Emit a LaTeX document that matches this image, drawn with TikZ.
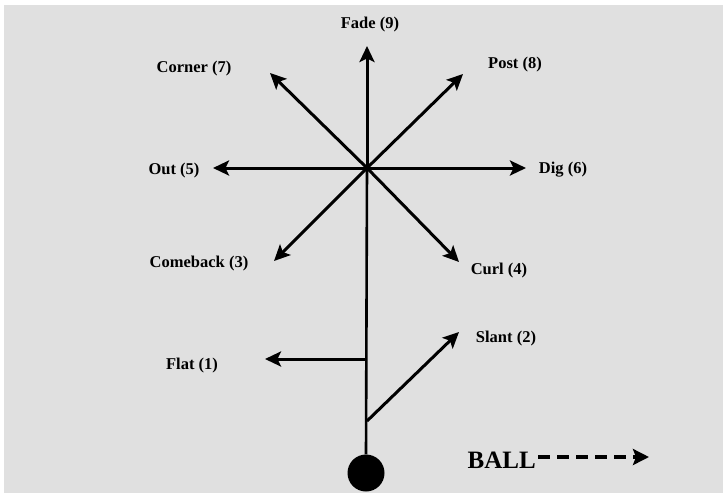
\documentclass[tikz,border=0pt]{standalone}
\usepackage{fontspec}
\setmainfont{Liberation Serif}
\usetikzlibrary{arrows.meta}
\definecolor{bg}{HTML}{E0E0E0}
\begin{document}
\begin{tikzpicture}[x=1pt,y=-1pt,
  lbl/.style={font=\bfseries\fontsize{16.5}{18}\selectfont, inner sep=0pt},
  route/.style={line width=3pt, -{Stealth[length=16pt,width=15pt,inset=3.5pt]}},
  stem/.style={line width=2.6pt}]
\useasboundingbox (0,0) rectangle (727,493);
\fill[white] (0,0) rectangle (727,493);
\fill[bg] (4,5) rectangle (723,493);

% ball and stem
\node[circle, fill=black, minimum size=37pt, inner sep=0pt] (ball) at (366,473) {};
\coordinate (c) at (367,168);
\coordinate (fadeTip) at (367,46);
\coordinate (slantRoot) at (367,421);
\coordinate (flatRoot) at (367,359);

% tips
\coordinate (cornerTip) at (270,73);
\coordinate (postTip) at (463,74);
\coordinate (outTip) at (213,168);
\coordinate (digTip) at (526,168);
\coordinate (comebackTip) at (274,261);
\coordinate (curlTip) at (459,262);
\coordinate (flatTip) at (265,359);
\coordinate (slantTip) at (459,332);

\draw[stem] (ball.north) -- (c);
\draw[route] (c) -- (fadeTip);
\draw[route] (c) -- (cornerTip);
\draw[route] (c) -- (postTip);
\draw[route] (c) -- (outTip);
\draw[route] (c) -- (digTip);
\draw[route] (c) -- (comebackTip);
\draw[route] (c) -- (curlTip);
\draw[route] (flatRoot) -- (flatTip);
\draw[route] (slantRoot) -- (slantTip);

% labels
\node[lbl] (fade) at (370,25) {Fade (9)};
\node[lbl] (corner) at (194,69) {Corner (7)};
\node[lbl] (post) at (515,65) {Post (8)};
\node[lbl] (out) at (174,171) {Out (5)};
\node[lbl] (dig) at (563,170) {Dig (6)};
\node[lbl] (comeback) at (199,264) {Comeback (3)};
\node[lbl] (curl) at (499,271) {Curl (4)};
\node[lbl] (flat) at (192,366) {Flat (1)};
\node[lbl] (slant) at (506,339) {Slant (2)};

% BALL legend
\node[font=\bfseries\fontsize{25}{28}\selectfont, inner sep=0pt, anchor=east] (balltxt) at (536,460) {BALL};
\coordinate (legendTip) at (649,457);
\draw[line width=4pt, dash pattern=on 12pt off 7pt, -{Stealth[length=16pt,width=16pt,inset=3pt]}] (balltxt.east |- legendTip) ++(2,0) coordinate (legendStart) -- (legendTip);
\end{tikzpicture}
\end{document}
